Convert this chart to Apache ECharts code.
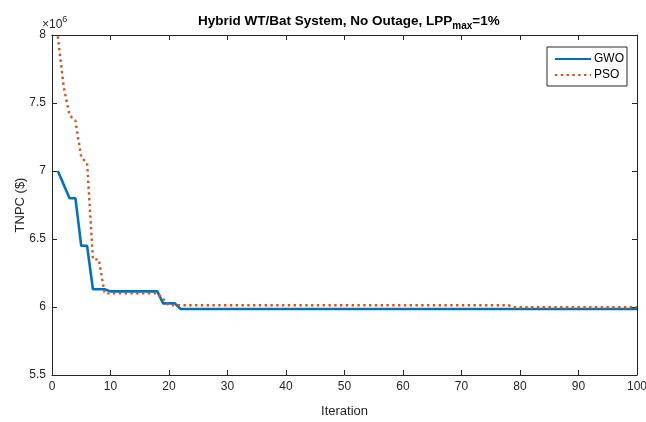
<!DOCTYPE html>
<html>
<head>
<meta charset="utf-8">
<script src="https://cdn.jsdelivr.net/npm/echarts@6/dist/echarts.min.js"></script>
<style>
  html, body { margin: 0; padding: 0; background: #fff; }
  #chart { width: 646px; height: 422px; }
</style>
</head>
<body>
<div id="chart"></div>
<script>
// corner points of each convergence curve (TNPC in units of 1e6 $)
const gwoIter = [1, 3, 4, 5, 6, 7, 9, 10, 18, 19, 21, 22, 100];
const gwoVal = [7.0, 6.8, 6.8, 6.45, 6.45, 6.13, 6.13, 6.115, 6.115, 6.027, 6.027, 5.985, 5.985];

const psoIter = [1, 2, 3, 4, 5, 6, 7, 8, 9, 18, 19, 20, 78, 79, 100];
const psoVal = [7.99, 7.62, 7.41, 7.37, 7.1, 7.06, 6.35, 6.35, 6.1, 6.1, 6.06, 6.013, 6.013, 5.998, 5.998];

const xTicks = [0, 100, 10];
const yTicks = [5.5, 8, 0.5];

const font = '"Liberation Sans", Arial, sans-serif';
const ink = '#262626';

const chart = echarts.init(document.getElementById('chart'));

function pairs(xs, ys) {
  return xs.map((x, i) => [x, ys[i]]);
}

const axisCommon = {
  type: 'value',
  splitLine: { show: false },
  axisLine: { show: true, onZero: false, lineStyle: { color: ink, width: 1 } },
  axisTick: { show: true, inside: true, length: 5, lineStyle: { color: ink } }
};

const option = {
  animation: false,
  backgroundColor: '#fff',
  title: {
    text: '{a|Hybrid WT/Bat System, No Outage, LPP}{sub|max}{a|=1%}',
    left: 193,
    top: 6,
    textStyle: {
      rich: {
        a: { fontFamily: font, fontSize: 13.5, fontWeight: 'bold', color: '#000' },
        sub: {
          fontFamily: font,
          fontSize: 10,
          fontWeight: 'bold',
          color: '#000',
          padding: [10, 0, 0, 0]
        }
      }
    }
  },
  graphic: [
    {
      type: 'text',
      left: 42,
      top: 15,
      style: {
        text: '{x|×10}{s|6}',
        rich: {
          x: { fontFamily: font, fontSize: 12, fill: ink, padding: [5, 0, 0, 0] },
          s: { fontFamily: font, fontSize: 9, fill: ink, padding: [0, 0, 5, 0] }
        }
      }
    }
  ],
  legend: {
    orient: 'vertical',
    left: 547,
    top: 47,
    padding: [6, 3, 5, 7],
    itemGap: 4,
    itemWidth: 36,
    itemHeight: 12,
    borderColor: ink,
    borderWidth: 1,
    backgroundColor: '#fff',
    itemStyle: { opacity: 0 },
    textStyle: { fontFamily: font, fontSize: 12, color: '#000', padding: [0, 0, 0, -2] },
    data: ['GWO', 'PSO']
  },
  grid: { left: 52, right: 9, top: 35, bottom: 47, outerBoundsMode: 'none' },
  xAxis: [
    {
      ...axisCommon,
      min: xTicks[0],
      max: xTicks[1],
      interval: xTicks[2],
      name: 'Iteration',
      nameLocation: 'middle',
      nameGap: 30,
      nameMoveOverlap: false,
      nameTextStyle: { fontFamily: font, fontSize: 13, color: ink },
      axisLabel: { fontFamily: font, fontSize: 12, color: ink, margin: 6 }
    },
    {
      ...axisCommon,
      position: 'top',
      min: xTicks[0],
      max: xTicks[1],
      interval: xTicks[2],
      axisLabel: { show: false }
    }
  ],
  yAxis: [
    {
      ...axisCommon,
      min: yTicks[0],
      max: yTicks[1],
      interval: yTicks[2],
      name: 'TNPC ($)',
      nameLocation: 'middle',
      nameGap: 25,
      nameMoveOverlap: false,
      nameRotate: 90,
      nameTextStyle: { fontFamily: font, fontSize: 13, color: ink },
      axisLabel: { fontFamily: font, fontSize: 12, color: ink, margin: 6 }
    },
    {
      ...axisCommon,
      position: 'right',
      min: yTicks[0],
      max: yTicks[1],
      interval: yTicks[2],
      axisLabel: { show: false }
    }
  ],
  series: [
    {
      name: 'GWO',
      type: 'line',
      symbol: 'none',
      data: pairs(gwoIter, gwoVal),
      lineStyle: { color: '#0072BD', width: 2.6 },
      itemStyle: { color: '#0072BD' },
      z: 2
    },
    {
      name: 'PSO',
      type: 'line',
      symbol: 'none',
      data: pairs(psoIter, psoVal),
      lineStyle: { color: '#D95319', width: 2.4, type: [2.4, 3.4] },
      itemStyle: { color: '#D95319' },
      z: 3
    }
  ]
};

chart.setOption(option);
</script>
</body>
</html>
